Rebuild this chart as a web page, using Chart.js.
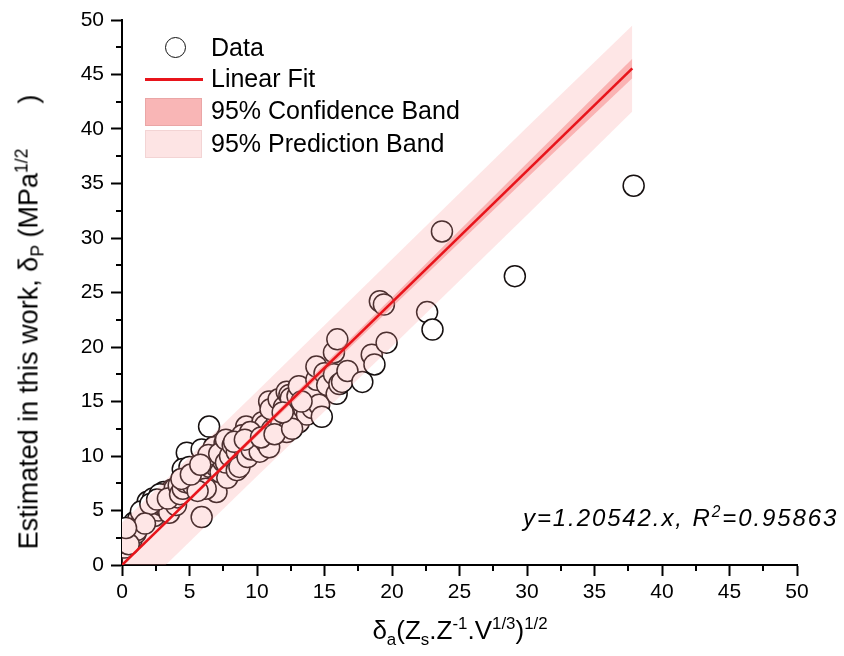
<!DOCTYPE html>
<html>
<head>
<meta charset="utf-8">
<script src="https://cdn.jsdelivr.net/npm/chart.js@4.4.1/dist/chart.umd.min.js"></script>
<style>
  html,body{margin:0;padding:0;background:#fff;}
  #wrap{position:relative;width:844px;height:656px;overflow:hidden;font-family:'Liberation Sans',Arial,sans-serif;color:#000;}
  canvas{position:absolute;left:0;top:0;}
  .abs{position:absolute;white-space:nowrap;}
  .leg{font-size:25px;line-height:25px;}
  sub,sup{font-size:65%;line-height:0;}
</style>
</head>
<body>
<div id="wrap">
  <canvas id="c" width="844" height="656"></canvas>
  <!-- legend -->
  <div class="abs" style="left:165px;top:37px;width:19px;height:19px;border:1.6px solid #111;border-radius:50%;background:#fff;"></div>
  <div class="abs leg" style="left:211px;top:35px;">Data</div>
  <div class="abs" style="left:145px;top:78px;width:58px;height:3px;background:#e8141b;"></div>
  <div class="abs leg" style="left:211px;top:66px;">Linear Fit</div>
  <div class="abs" style="left:145px;top:98px;width:57px;height:28px;background:#f9b6b6;border:1px solid #eaa6a6;box-sizing:border-box;"></div>
  <div class="abs leg" style="left:211px;top:98px;">95% Confidence Band</div>
  <div class="abs" style="left:145px;top:130px;width:57px;height:28px;background:#fde4e4;border:1px solid #f3d4d4;box-sizing:border-box;"></div>
  <div class="abs leg" style="left:211px;top:131px;">95% Prediction Band</div>
  <!-- equation -->
  <div class="abs" style="left:523px;top:504px;font-size:24px;font-style:italic;letter-spacing:1.9px;">y=1.20542.x, R<sup>2</sup>=0.95863</div>
  <!-- x title -->
  <div class="abs" style="left:460px;top:630px;transform:translate(-50%,-50%);font-size:26px;">&delta;<sub>a</sub>(Z<sub>s</sub>.Z<sup>-1</sup>.V<sup>1/3</sup>)<sup>1/2</sup></div>
  <!-- y title -->
  <div class="abs" style="left:29px;top:322px;transform:translate(-50%,-50%) rotate(-90deg);font-size:27px;">Estimated in this work, &delta;<sub>P</sub> (MPa<sup>1/2</sup>&nbsp;&nbsp;&nbsp;&nbsp;&nbsp;&nbsp;)</div>
</div>
<script>
// ---- data ----
const dataX = [
 0.2,0.3,0.5,0.7,0.4,0.8,0.9,1.0,1.2,1.3,1.5,1.6,0.6,1.8,2.0,2.2,1.9,2.4,2.5,2.7,2.9,3.0,3.1,3.3,3.5,3.5,3.7,4.0,0.1,1.1,2.3,2.8,3.9,4.1,
 0.5,1.4,2.1,2.6,3.4,1.7,0.3,
 4.2,4.3,4.5,4.7,4.8,5.0,5.2,5.3,5.5,5.7,5.9,6.1,6.3,6.5,6.8,7.0,7.0,6.0,5.5,4.8,5.9,6.8,7.6,6.45,5.9,6.6,7.3,7.5,4.5,5.0,6.2,7.8,5.6,
 4.4,5.1,6.4,7.2,5.8,
 7.7,7.7,8.0,8.2,8.5,8.5,8.7,9.0,9.2,9.3,9.6,9.8,9.9,10.0,10.2,10.4,10.6,10.7,11.1,11.5,8.9,10.9,9.5,
 8.3,9.1,10.3,
 10.9,11.0,11.6,11.8,12.0,12.2,12.2,12.4,12.5,12.8,12.9,13.0,13.1,13.1,13.5,13.7,14.0,14.1,14.4,14.4,14.6,14.8,11.3,12.6,
 13.3,11.9,
 15.0,15.2,15.7,15.7,15.9,15.95,16.1,16.3,16.7,17.8,18.5,18.7,19.1,19.4,19.6,
 22.6,23.0,23.7,29.1,37.9
];
const dataY = [
 1.6,2.0,2.6,2.3,3.1,3.5,3.9,2.9,4.2,3.6,4.0,4.4,3.0,5.0,4.8,5.2,5.8,4.5,5.5,5.0,5.5,6.0,6.7,5.2,6.4,4.8,6.9,5.5,2.4,3.2,6.1,6.5,7.0,6.2,
 1.9,4.9,5.6,6.0,6.1,3.8,3.4,
 7.3,6.5,7.0,7.6,8.2,7.9,7.4,8.5,8.0,8.6,7.7,8.3,8.0,9.0,7.2,6.7,9.0,9.5,9.6,10.3,10.6,10.8,11.2,12.7,4.4,9.8,8.5,9.5,8.8,9.0,7.0,8.0,6.8,
 7.9,8.3,10.1,10.2,9.2,
 11.5,9.4,10.0,11.0,10.4,8.7,9.0,10.8,12.7,9.9,10.6,11.8,11.8,12.3,10.4,13.1,12.8,11.2,12.4,13.4,11.9,10.8,12.2,
 11.3,11.5,11.7,
 15.0,14.3,15.2,13.0,14.5,12.2,15.9,15.6,15.3,13.4,14.0,15.5,13.1,16.4,14.3,13.8,15.5,14.4,17.0,18.2,14.7,13.6,12.0,12.5,
 15.0,14.0,
 17.6,16.5,17.5,19.5,15.7,20.7,16.6,16.8,17.8,16.8,19.3,18.4,24.2,23.9,20.4,
 23.2,21.6,30.6,26.5,34.8
];
// linear fit through origin
const fitX = [0, 37.8];
const fitY = [0, 45.56];
// bands (read at a few x positions)
const bandX     = [0,    10,    20,    30,    37.8];
const predUpper = [3.9,  15.95, 28.05, 40.15, 49.5];
const predLower = [-3.9, 8.15,  20.05, 32.1,  41.6];
const confUpper = [0.05, 12.3,  24.55, 36.85, 46.45];
const confLower = [-0.05,11.8,  23.65, 35.5,  44.65];
const axisMin = 0, axisMax = 50, majorStep = 5, minorStep = 2.5;

const pts = (xs, ys) => xs.map((x, i) => ({x: x, y: ys[i]}));

const minorTicks = {
  id: 'minorTicks',
  afterDraw(chart) {
    const ctx = chart.ctx, xs = chart.scales.x, ys = chart.scales.y;
    const a = chart.chartArea;
    ctx.save();
    ctx.strokeStyle = '#000';
    ctx.lineWidth = 2;
    for (let v = axisMin + minorStep; v < axisMax; v += majorStep) {
      const px = Math.round(xs.getPixelForValue(v));
      ctx.beginPath(); ctx.moveTo(px, a.bottom); ctx.lineTo(px, a.bottom + 6); ctx.stroke();
      const py = Math.round(ys.getPixelForValue(v));
      ctx.beginPath(); ctx.moveTo(a.left, py); ctx.lineTo(a.left - 6, py); ctx.stroke();
    }
    ctx.restore();
  }
};

const tickFont = {family: "'Liberation Sans', Arial, sans-serif", size: 21};

new Chart(document.getElementById('c'), {
  type: 'scatter',
  data: {
    datasets: [
      {label: 'Data', data: pts(dataX, dataY), order: 10,
       pointRadius: 10.5, pointBorderWidth: 1.5, pointBackgroundColor: '#ffffff', pointBorderColor: '#161010'},
      {label: '95% Prediction Band', data: pts(bandX, predUpper), order: 6, showLine: true,
       pointRadius: 0, borderWidth: 0, borderColor: 'rgba(0,0,0,0)', fill: '+1', backgroundColor: 'rgba(250,150,150,0.24)'},
      {label: 'pred lower', data: pts(bandX, predLower), order: 7, showLine: true,
       pointRadius: 0, borderWidth: 0, borderColor: 'rgba(0,0,0,0)', fill: false},
      {label: '95% Confidence Band', data: pts(bandX, confUpper), order: 4, showLine: true,
       pointRadius: 0, borderWidth: 0, borderColor: 'rgba(0,0,0,0)', fill: '+1', backgroundColor: 'rgba(245,110,110,0.42)'},
      {label: 'conf lower', data: pts(bandX, confLower), order: 5, showLine: true,
       pointRadius: 0, borderWidth: 0, borderColor: 'rgba(0,0,0,0)', fill: false},
      {label: 'Linear Fit', data: pts(fitX, fitY), order: 1, showLine: true,
       pointRadius: 0, borderWidth: 2.6, borderColor: '#e8141b', fill: false}
    ]
  },
  options: {
    responsive: false,
    animation: false,
    devicePixelRatio: 1,
    events: [],
    layout: {padding: {left: 0, right: 47, top: 20, bottom: 0}},
    plugins: {legend: {display: false}, tooltip: {enabled: false}, title: {display: false}},
    scales: {
      x: {
        type: 'linear', min: axisMin, max: axisMax,
        ticks: {stepSize: majorStep, color: '#000', font: tickFont, padding: 4, maxRotation: 0},
        grid: {display: true, drawOnChartArea: false, drawTicks: true, tickLength: 11, tickColor: '#000', tickWidth: 2},
        border: {display: true, color: '#000', width: 2},
        title: {display: false},
        afterFit(s) { s.height = 91; }
      },
      y: {
        type: 'linear', min: axisMin, max: axisMax,
        ticks: {stepSize: majorStep, color: '#000', font: tickFont, padding: 7},
        grid: {display: true, drawOnChartArea: false, drawTicks: true, tickLength: 11, tickColor: '#000', tickWidth: 2},
        border: {display: true, color: '#000', width: 2},
        title: {display: false},
        afterFit(s) { s.width = 122; }
      }
    }
  },
  plugins: [minorTicks]
});
</script>
</body>
</html>
